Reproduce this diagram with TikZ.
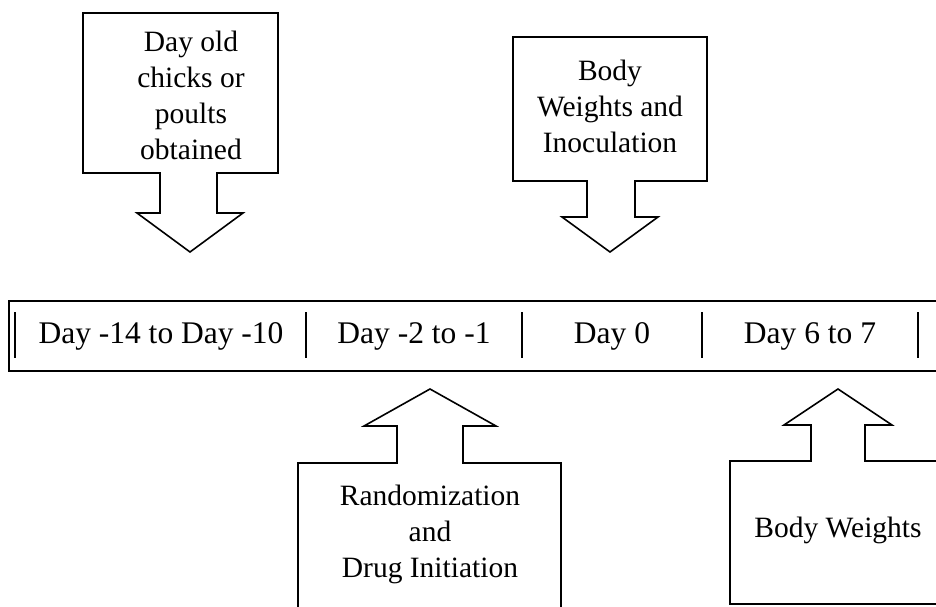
\documentclass[tikz,border=0pt]{standalone}
\usepackage{fontspec}
\setmainfont{Liberation Serif}
\begin{document}
\begin{tikzpicture}[x=1pt,y=-1pt,
  shape line/.style={draw=black,line width=1.6pt,line join=miter},
  lbl/.style={font=\fontsize{29.5}{36}\selectfont,align=center,inner sep=0pt},
  daylbl/.style={font=\fontsize{31.5}{36}\selectfont,inner sep=0pt},
  tick/.style={draw=black,line width=1.8pt}]
\useasboundingbox (0,0) rectangle (936,606);
% top callout 1
\draw[shape line] (83,13) -- (278,13) -- (278,173) -- (217,173) -- (217,213) -- (243,213)
  -- (190,252) -- (137,213) -- (160,213) -- (160,173) -- (83,173) -- cycle;
\node[lbl] (chicks) at (191,95) {Day old\\chicks or\\poults\\obtained};
% top callout 2
\draw[shape line] (513,37) -- (707,37) -- (707,181) -- (635,181) -- (635,217) -- (658,217)
  -- (610,252) -- (562,217) -- (587,217) -- (587,181) -- (513,181) -- cycle;
\node[lbl] (inoc) at (610,106) {Body\\Weights and\\Inoculation};
% timeline bar
\draw[shape line] (940,301) -- (9,301) -- (9,371) -- (940,371);
\foreach \x/\n in {15/t0,306/t1,522/t2,702/t3,918/t4}{
  \coordinate (\n a) at (\x,312); \coordinate (\n b) at (\x,358);
  \draw[tick] (\n a) -- (\n b);}
\node[daylbl] (d1) at (161,336) {Day -14 to Day -10};
\node[daylbl] (d2) at (414,336) {Day -2 to -1};
\node[daylbl] (d3) at (612,336) {Day 0};
\node[daylbl] (d4) at (810,336) {Day 6 to 7};
% bottom callout 1
\draw[shape line] (298,610) -- (298,463) -- (397,463) -- (397,426) -- (364,426) -- (430,389)
  -- (496,426) -- (463,426) -- (463,463) -- (561,463) -- (561,610);
\node[lbl] (rand) at (430,534) {Randomization\\and\\Drug Initiation};
% bottom callout 2
\draw[shape line] (940,604) -- (730,604) -- (730,461) -- (811,461) -- (811,425) -- (784,425)
  -- (838,389) -- (892,425) -- (865,425) -- (865,461) -- (940,461);
\node[lbl] (bw) at (838,530) {Body Weights};
\end{tikzpicture}
\end{document}
